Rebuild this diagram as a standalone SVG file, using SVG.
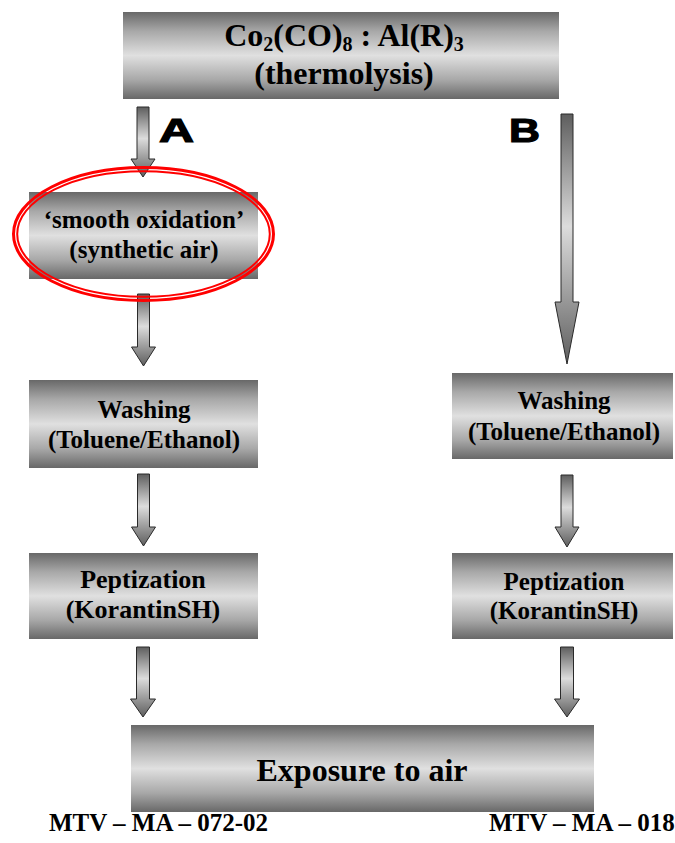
<svg xmlns="http://www.w3.org/2000/svg" width="675" height="843" viewBox="0 0 675 843">
  <defs>
    <!-- brushed-metal look for the process boxes -->
    <linearGradient id="metal" x1="0" y1="0" x2="0" y2="1">
      <stop offset="0" stop-color="#686868"/>
      <stop offset="0.22" stop-color="#a8a8a8"/>
      <stop offset="0.5" stop-color="#e0e0e0"/>
      <stop offset="0.78" stop-color="#a8a8a8"/>
      <stop offset="1" stop-color="#686868"/>
    </linearGradient>
    <!-- shading for block arrows -->
    <linearGradient id="arrowFill" x1="0" y1="0" x2="0" y2="1">
      <stop offset="0" stop-color="#5e5e5e"/>
      <stop offset="0.45" stop-color="#dcdcdc"/>
      <stop offset="1" stop-color="#5e5e5e"/>
    </linearGradient>
    <style>
      .box { fill: url(#metal); }
      .arrow { fill: url(#arrowFill); stroke: #2a2a2a; stroke-width: 1; stroke-linejoin: miter; }
      .t { font-family: "Liberation Serif", "Times New Roman", serif; font-weight: bold; fill: #000; text-anchor: middle; }
      .lbl { font-family: "Liberation Serif", "Times New Roman", serif; font-weight: bold; fill: #000; font-size: 25px; }
      .route { font-family: "Liberation Sans", Arial, sans-serif; font-weight: 900; font-size: 34px; fill: #000; stroke: #000; stroke-width: 1.2; }
      .ring { fill: none; stroke: #ff0000; }
    </style>
  </defs>

  <!-- connectors -->
  <g id="connectors">
    <path class="arrow" d="M137,107 H149 V159 H155 L143,177 L131,159 H137 Z"/>
    <path class="arrow" d="M137.5,294 H149.5 V347 H155.5 L143.5,366 L131.5,347 H137.5 Z"/>
    <path class="arrow" d="M137.5,474 H149.5 V527 H155.5 L143.5,546 L131.5,527 H137.5 Z"/>
    <path class="arrow" d="M136.5,647 H149.5 V699 H155.5 L143,717 L130.5,699 H136.5 Z"/>
    <path class="arrow" d="M561,114 H573 V302 H579 L567,364 L555,302 H561 Z"/>
    <path class="arrow" d="M561,475 H573 V527 H579 L567,547 L555,527 H561 Z"/>
    <path class="arrow" d="M560.5,647 H573.5 V699 H579.5 L567,717 L554.5,699 H560.5 Z"/>
  </g>

  <!-- route letters -->
  <g id="route-labels">
    <text class="route" x="159" y="142" textLength="35" lengthAdjust="spacingAndGlyphs">A</text>
    <text class="route" x="509" y="142" textLength="31" lengthAdjust="spacingAndGlyphs">B</text>
  </g>

  <g id="precursor">
    <rect class="box" x="123" y="12" width="436" height="87"/>
    <text class="t" x="344" y="46" font-size="32">Co<tspan font-size="20" dy="5">2</tspan><tspan dy="-5">(CO)</tspan><tspan font-size="20" dy="5">8</tspan><tspan dy="-5"> : Al(R)</tspan><tspan font-size="20" dy="5">3</tspan></text>
    <text class="t" x="344" y="84" font-size="32">(thermolysis)</text>
  </g>

  <g id="oxidation">
    <rect class="box" x="29" y="192" width="229" height="87"/>
    <text class="t" x="144" y="228" font-size="25">‘smooth oxidation’</text>
    <text class="t" x="144" y="258" font-size="25">(synthetic air)</text>
  </g>

  <!-- double red highlight ring -->
  <g id="highlight">
    <ellipse class="ring" cx="143.5" cy="234" rx="130" ry="66.5" stroke-width="3"/>
    <ellipse class="ring" cx="143.5" cy="234" rx="126.3" ry="62.8" stroke-width="2"/>
  </g>

  <g id="washing-a">
    <rect class="box" x="29" y="380" width="229" height="88"/>
    <text class="t" x="144" y="418" font-size="25">Washing</text>
    <text class="t" x="144" y="448" font-size="25">(Toluene/Ethanol)</text>
  </g>

  <g id="peptization-a">
    <rect class="box" x="29" y="553" width="229" height="86"/>
    <text class="t" x="143" y="588" font-size="26">Peptization</text>
    <text class="t" x="143" y="618" font-size="26">(KorantinSH)</text>
  </g>

  <g id="washing-b">
    <rect class="box" x="452" y="373" width="221" height="86"/>
    <text class="t" x="564" y="409" font-size="25">Washing</text>
    <text class="t" x="564" y="440" font-size="25">(Toluene/Ethanol)</text>
  </g>

  <g id="peptization-b">
    <rect class="box" x="452" y="553" width="221" height="86"/>
    <text class="t" x="564" y="590" font-size="25">Peptization</text>
    <text class="t" x="564" y="619" font-size="25">(KorantinSH)</text>
  </g>

  <g id="exposure">
    <rect class="box" x="131" y="725" width="463" height="87"/>
    <text class="t" x="362" y="781" font-size="32">Exposure to air</text>
  </g>

  <g id="sample-codes">
    <text class="lbl" x="49" y="831">MTV – MA – 072-02</text>
    <text class="lbl" x="489" y="831">MTV – MA – 018</text>
  </g>
</svg>
